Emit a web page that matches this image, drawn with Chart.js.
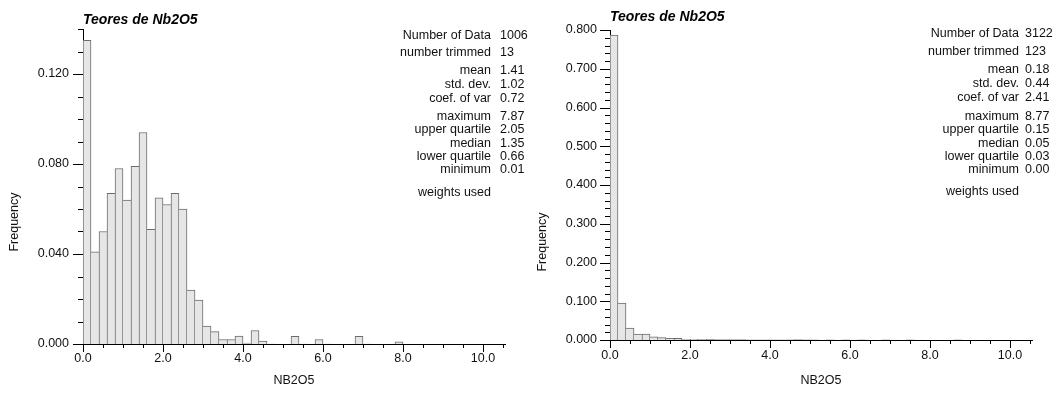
<!DOCTYPE html>
<html>
<head>
<meta charset="utf-8">
<script src="https://cdn.jsdelivr.net/npm/chart.js@4/dist/chart.umd.min.js"></script>
<style>
body { margin: 0; background: #fff; }
.panel { position: absolute; top: 0; width: 528px; height: 394px; }
</style>
</head>
<body>
<div class="panel" style="left:0"><canvas id="hist-left" width="528" height="394"></canvas></div>
<div class="panel" style="left:528px"><canvas id="hist-right" width="528" height="394"></canvas></div>
<script>
// histogram bins are 0.2 wide starting at 0
binWidth = 0.2;

// frequency per bin, first sample set
freqLeft = [
    0.135, 0.041, 0.050, 0.067, 0.078, 0.064, 0.079, 0.094, 0.051, 0.065,
    0.062, 0.067, 0.060, 0.024, 0.0195, 0.008, 0.0055, 0.002, 0.002, 0.0035,
    0.0004, 0.006, 0.0013, 0, 0, 0, 0.0034, 0, 0, 0.002,
    0, 0, 0, 0, 0.0034, 0, 0, 0, 0, 0.001
];

// frequency per bin, second sample set
freqRight = [
    0.787, 0.095, 0.031, 0.015, 0.015, 0.008, 0.006, 0.004, 0.004, 0.002,
    0.002, 0.0015, 0.0015, 0.001, 0.001, 0.0008, 0.0008, 0.0006, 0.0006, 0.0005,
    0.0005, 0.0004, 0.0004, 0.0008, 0.0003, 0.0003, 0, 0.0003, 0, 0.0003,
    0, 0.0003, 0, 0, 0.0003, 0, 0, 0.0003, 0, 0,
    0, 0, 0, 0.0006
];

statLabels = ["Number of Data", "number trimmed", "mean", "std. dev.", "coef. of var",
    "maximum", "upper quartile", "median", "lower quartile", "minimum", "weights used"];
statsLeft = ["1006", "13", "1.41", "1.02", "0.72", "7.87", "2.05", "1.35", "0.66", "0.01"];
statsRight = ["3122", "123", "0.18", "0.44", "2.41", "8.77", "0.15", "0.05", "0.03", "0.00"];

var FONT = '"Liberation Sans", Arial, Helvetica, sans-serif';
var TEXT_SIZE = 12.5;

// short ticks for minor steps, long ones where a label sits
var tickMarks = {
    id: 'tickMarks',
    afterDraw: function(chart) {
        var ctx = chart.ctx, xs = chart.scales.x, ys = chart.scales.y;
        ctx.save();
        ctx.strokeStyle = '#000';
        ctx.lineWidth = 1;
        ctx.beginPath();
        ys.ticks.forEach(function(t) {
            var py = Math.round(ys.getPixelForValue(t.value)) + 0.5;
            var len = t.label !== '' ? 10 : 5;
            ctx.moveTo(xs.left - len, py);
            ctx.lineTo(xs.left, py);
        });
        xs.ticks.forEach(function(t) {
            var px = Math.round(xs.getPixelForValue(t.value)) + 0.5;
            var len = t.label !== '' ? 8 : 4;
            ctx.moveTo(px, ys.bottom);
            ctx.lineTo(px, ys.bottom + len);
        });
        ctx.stroke();
        ctx.restore();
    }
};

// summary statistics column and the rotated y caption
var statsBox = {
    id: 'statsBox',
    afterDraw: function(chart, args, o) {
        var ctx = chart.ctx;
        ctx.save();
        ctx.font = TEXT_SIZE + 'px ' + FONT;
        ctx.fillStyle = '#111';
        ctx.textBaseline = 'middle';
        for (var i = 0; i < statLabels.length; i++) {
            ctx.textAlign = 'right';
            ctx.fillText(statLabels[i], o.labelRight, o.rows[i]);
            if (o.values[i] !== undefined) {
                ctx.textAlign = 'left';
                ctx.fillText(o.values[i], o.valueLeft, o.rows[i]);
            }
        }
        ctx.translate(o.captionX, o.captionY);
        ctx.rotate(-Math.PI / 2);
        ctx.textAlign = 'center';
        ctx.fillText('Frequency', 0, 0);
        ctx.restore();
    }
};

function barBorders(c) {
    var d = c.dataset.data, i = c.dataIndex;
    var cur = d[i].y;
    var prev = i > 0 ? d[i - 1].y : 0;
    var next = i + 1 < d.length ? d[i + 1].y : 0;
    return {top: 1, left: (i === 0 || prev <= cur) ? 1 : 0, right: next < cur ? 1 : 0, bottom: 0};
}

function makeHistogram(id, freqs, stats, cfg) {
    var points = freqs.map(function(f, i) { return {x: (i + 0.5) * binWidth, y: f}; });
    var ctx = document.getElementById(id).getContext('2d');
    return new Chart(ctx, {
        type: 'bar',
        data: {
            datasets: [{
                data: points,
                backgroundColor: '#e6e6e6',
                borderColor: '#6b6b6b',
                borderWidth: barBorders,
                borderSkipped: false,
                barPercentage: 1,
                categoryPercentage: 1
            }]
        },
        options: {
            responsive: false,
            animation: false,
            devicePixelRatio: 1,
            layout: {padding: {left: 0, right: cfg.padRight, top: 0, bottom: 0}},
            plugins: {
                legend: {display: false},
                tooltip: {enabled: false},
                title: {
                    display: true,
                    text: 'Teores de Nb2O5',
                    align: 'start',
                    fullSize: false,
                    color: '#000',
                    font: {family: FONT, size: 14, style: 'italic', weight: 'bold'},
                    padding: cfg.titlePad
                },
                statsBox: {
                    labelRight: 491,
                    valueLeft: cfg.valueLeft,
                    rows: cfg.rows,
                    values: stats,
                    captionX: 15,
                    captionY: cfg.captionY
                }
            },
            scales: {
                x: {
                    type: 'linear',
                    min: 0,
                    max: 10.55,
                    offset: false,
                    grid: {display: false, drawTicks: false},
                    border: {display: true, color: '#000', width: 1},
                    ticks: {
                        stepSize: 0.5,
                        includeBounds: false,
                        autoSkip: false,
                        maxRotation: 0,
                        padding: cfg.xLabelPad,
                        color: '#111',
                        font: {family: FONT, size: TEXT_SIZE},
                        callback: function(v) { return Math.round(v * 10) % 20 === 0 ? v.toFixed(1) : ''; }
                    },
                    title: {
                        display: true,
                        text: 'NB2O5',
                        color: '#111',
                        font: {family: FONT, size: TEXT_SIZE},
                        padding: {top: 0, bottom: 6}
                    },
                    afterFit: function(s) { s.height = cfg.xHeight; }
                },
                y: {
                    min: 0,
                    max: cfg.yMax,
                    grid: {display: false, drawTicks: false},
                    border: {display: true, color: '#000', width: 1},
                    ticks: {
                        stepSize: cfg.yStep,
                        autoSkip: false,
                        padding: cfg.yLabelPad,
                        color: '#111',
                        font: {family: FONT, size: TEXT_SIZE},
                        callback: function(v) {
                            return Math.round(v / cfg.yStep) % cfg.yMajorEvery === 0 ? v.toFixed(3) : '';
                        }
                    },
                    afterFit: function(s) { s.width = cfg.yWidth; }
                }
            }
        },
        plugins: [tickMarks, statsBox]
    });
}

document.addEventListener('DOMContentLoaded', function() {
    makeHistogram('hist-left', freqLeft, statsLeft, {
        yMax: 0.14, yStep: 0.01, yMajorEvery: 4,
        yWidth: 83, xHeight: 50, padRight: 23,
        titlePad: {top: 12, bottom: 0.2},
        xLabelPad: 7.5, yLabelPad: 14,
        valueLeft: 500,
        rows: [36, 53, 71, 85, 99, 117, 130, 143.5, 157, 170, 193],
        captionY: 222
    });
    makeHistogram('hist-right', freqRight, statsRight, {
        yMax: 0.8, yStep: 0.02, yMajorEvery: 5,
        yWidth: 82, xHeight: 54, padRight: 24,
        titlePad: {top: 8.6, bottom: 4.6},
        xLabelPad: 8.5, yLabelPad: 13,
        valueLeft: 497,
        rows: [34, 52, 70, 83.5, 97.5, 117, 130, 143.5, 157, 170, 191.5],
        captionY: 242
    });
});
</script>
</body>
</html>
